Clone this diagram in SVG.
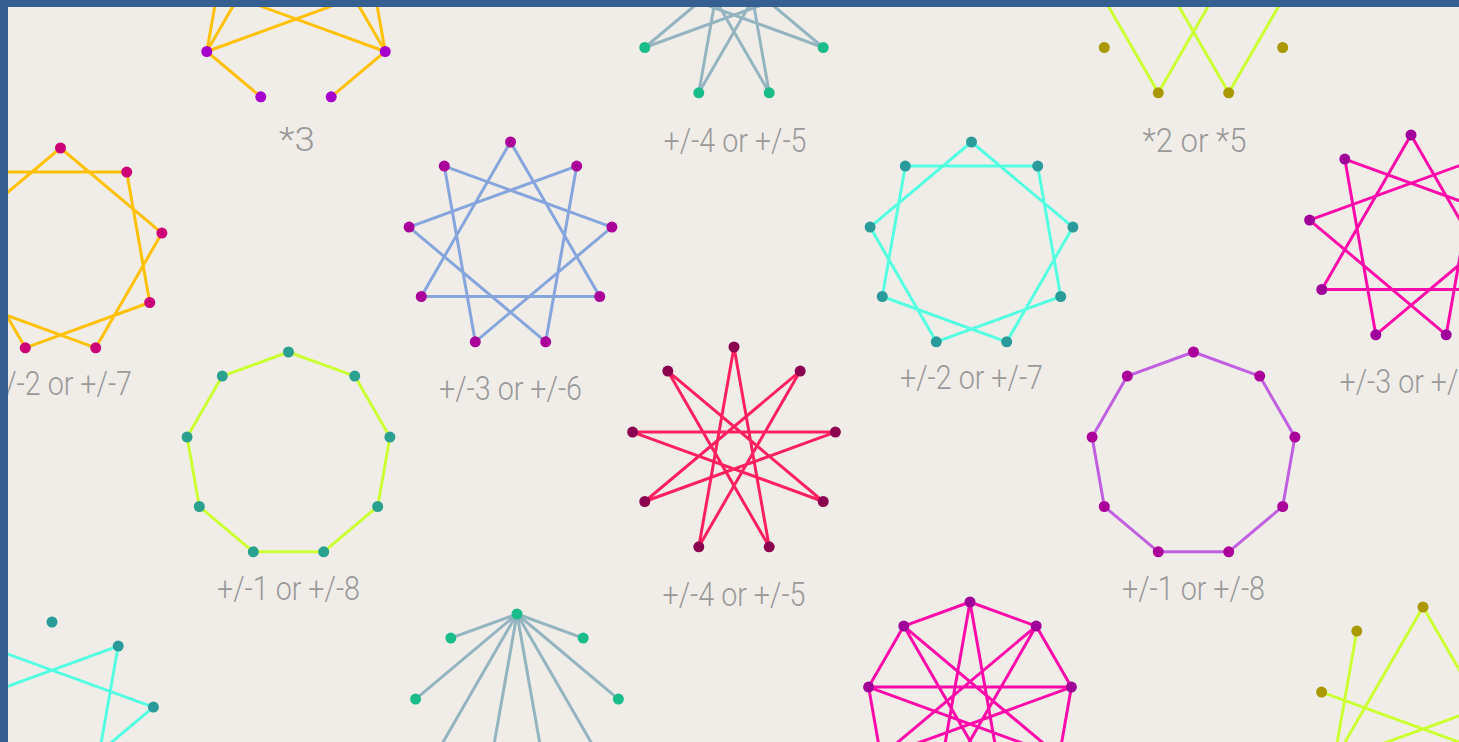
<svg xmlns="http://www.w3.org/2000/svg" xmlns:xlink="http://www.w3.org/1999/xlink" width="1459" height="742" viewBox="0 0 1459 742">
<style>
.e{fill:none;stroke-width:3;stroke-linejoin:round;stroke-linecap:round}
.lbl{font-family:Roboto,"Liberation Sans",sans-serif;font-weight:300;font-size:33px;fill:#999;text-anchor:middle}
</style>
<defs>
<g id="dots">
<circle cx="0" cy="-103" r="5.5"/><circle cx="66.2" cy="-78.9" r="5.5"/><circle cx="101.4" cy="-17.9" r="5.5"/><circle cx="89.2" cy="51.5" r="5.5"/><circle cx="35.2" cy="96.8" r="5.5"/><circle cx="-35.2" cy="96.8" r="5.5"/><circle cx="-89.2" cy="51.5" r="5.5"/><circle cx="-101.4" cy="-17.9" r="5.5"/><circle cx="-66.2" cy="-78.9" r="5.5"/>
</g>
<path id="ring" d="M0,-103 L66.2,-78.9 L101.4,-17.9 L89.2,51.5 L35.2,96.8 L-35.2,96.8 L-89.2,51.5 L-101.4,-17.9 L-66.2,-78.9 Z"/>
<path id="star2" d="M0,-103 L101.4,-17.9 L35.2,96.8 L-89.2,51.5 L-66.2,-78.9 L66.2,-78.9 L89.2,51.5 L-35.2,96.8 L-101.4,-17.9 Z"/>
<path id="star3" d="M0,-103 L89.2,51.5 L-89.2,51.5 Z M66.2,-78.9 L35.2,96.8 L-101.4,-17.9 Z M101.4,-17.9 L-35.2,96.8 L-66.2,-78.9 Z"/>
<path id="star4" d="M0,-103 L35.2,96.8 L-66.2,-78.9 L89.2,51.5 L-101.4,-17.9 L101.4,-17.9 L-89.2,51.5 L66.2,-78.9 L-35.2,96.8 Z"/>
<path id="mul3" d="M66.2,-78.9 L89.2,51.5 M101.4,-17.9 L-89.2,51.5 M35.2,96.8 L89.2,51.5 M-35.2,96.8 L-89.2,51.5 M-101.4,-17.9 L89.2,51.5 M-66.2,-78.9 L-89.2,51.5 M89.2,51.5 L0,-103 M-89.2,51.5 L0,-103"/>
<path id="mul2" d="M66.2,-78.9 L101.4,-17.9 L35.2,96.8 L-66.2,-78.9 L-101.4,-17.9 L-35.2,96.8 Z"/>
<path id="mul4" d="M66.2,-78.9 L35.2,96.8 L-101.4,-17.9 Z M101.4,-17.9 L-35.2,96.8 L-66.2,-78.9 Z"/>
<path id="mul0" d="M0,-103 L66.2,-78.9 M0,-103 L101.4,-17.9 M0,-103 L89.2,51.5 M0,-103 L35.2,96.8 M0,-103 L-35.2,96.8 M0,-103 L-89.2,51.5 M0,-103 L-101.4,-17.9 M0,-103 L-66.2,-78.9"/>
<path id="mixA" d="M0,-103 L66.2,-78.9 L101.4,-17.9 L89.2,51.5 L35.2,96.8 L-35.2,96.8 L-89.2,51.5 L-101.4,-17.9 L-66.2,-78.9 Z M0,-103 L35.2,96.8 L-66.2,-78.9 L89.2,51.5 L-101.4,-17.9 L101.4,-17.9 L-89.2,51.5 L66.2,-78.9 L-35.2,96.8 Z"/>
</defs>
<rect x="0" y="0" width="1459" height="742" fill="#f0ede8"/>

<g id="fig-mul3-top" transform="translate(296,0)">
<use href="#mul3" class="e" stroke="#ffc107"/>
<use href="#dots" fill="#a800cc"/>
<text class="lbl" x="1" y="151" textLength="36" lengthAdjust="spacingAndGlyphs">*3</text>
</g>
<g id="fig-add4-top" transform="translate(734,-4)">
<use href="#star4" class="e" stroke="#94b4c0"/>
<use href="#dots" fill="#1abc8a"/>
<text class="lbl" x="1" y="156" textLength="143" lengthAdjust="spacingAndGlyphs">+/-4 or +/-5</text>
</g>
<g id="fig-mul2-top" transform="translate(1193.5,-4)">
<use href="#mul2" class="e" stroke="#ccff33"/>
<use href="#dots" fill="#aa9900"/>
<text class="lbl" x="1" y="156" textLength="104" lengthAdjust="spacingAndGlyphs">*2 or *5</text>
</g>

<g id="fig-add2-left" transform="translate(60.5,251)">
<use href="#star2" class="e" stroke="#ffc107"/>
<use href="#dots" fill="#cc0077"/>
<text class="lbl" x="0" y="144" textLength="143" lengthAdjust="spacingAndGlyphs">+/-2 or +/-7</text>
</g>
<g id="fig-add3-blue" transform="translate(510.5,245)">
<use href="#star3" class="e" stroke="#86a5dc"/>
<use href="#dots" fill="#aa0099"/>
<text class="lbl" x="0" y="155" textLength="143" lengthAdjust="spacingAndGlyphs">+/-3 or +/-6</text>
</g>
<g id="fig-add2-cyan" transform="translate(971.5,245)">
<use href="#star2" class="e" stroke="#55ffe2"/>
<use href="#dots" fill="#2a9a9a"/>
<text class="lbl" x="0" y="144" textLength="143" lengthAdjust="spacingAndGlyphs">+/-2 or +/-7</text>
</g>
<g id="fig-add3-pink" transform="translate(1411,238)">
<use href="#star3" class="e" stroke="#ff0aaa"/>
<use href="#dots" fill="#a0009a"/>
<text class="lbl" x="0" y="155" textLength="143" lengthAdjust="spacingAndGlyphs">+/-3 or +/-6</text>
</g>

<g id="fig-add1-green" transform="translate(288.5,455)">
<use href="#ring" class="e" stroke="#ccff33"/>
<use href="#dots" fill="#2aa08e"/>
<text class="lbl" x="0" y="145" textLength="143" lengthAdjust="spacingAndGlyphs">+/-1 or +/-8</text>
</g>
<g id="fig-add4-red" transform="translate(734,450)">
<use href="#star4" class="e" stroke="#ff2060"/>
<use href="#dots" fill="#8c0050"/>
<text class="lbl" x="0" y="156" textLength="143" lengthAdjust="spacingAndGlyphs">+/-4 or +/-5</text>
</g>
<g id="fig-add1-purple" transform="translate(1193.5,455)">
<use href="#ring" class="e" stroke="#c060e0"/>
<use href="#dots" fill="#aa0099"/>
<text class="lbl" x="0" y="145" textLength="143" lengthAdjust="spacingAndGlyphs">+/-1 or +/-8</text>
</g>

<g id="fig-mul4-cyan" transform="translate(52,725)">
<use href="#mul4" class="e" stroke="#55ffe2"/>
<use href="#dots" fill="#2a9a9a"/>
</g>
<g id="fig-mul0-gray" transform="translate(517,717)">
<use href="#mul0" class="e" stroke="#94b4c0"/>
<use href="#dots" fill="#1abc8a"/>
</g>
<g id="fig-mix-magenta" transform="translate(970,705)">
<use href="#mixA" class="e" stroke="#ff0aaa"/>
<use href="#dots" fill="#a0009a"/>
</g>
<g id="fig-mul3-lime" transform="translate(1423,710)">
<use href="#mul3" class="e" stroke="#ccff33"/>
<use href="#dots" fill="#aa9900"/>
</g>

<rect x="0" y="0" width="1459" height="7" fill="#355e91"/>
<rect x="0" y="0" width="8" height="742" fill="#355e91"/>
</svg>
